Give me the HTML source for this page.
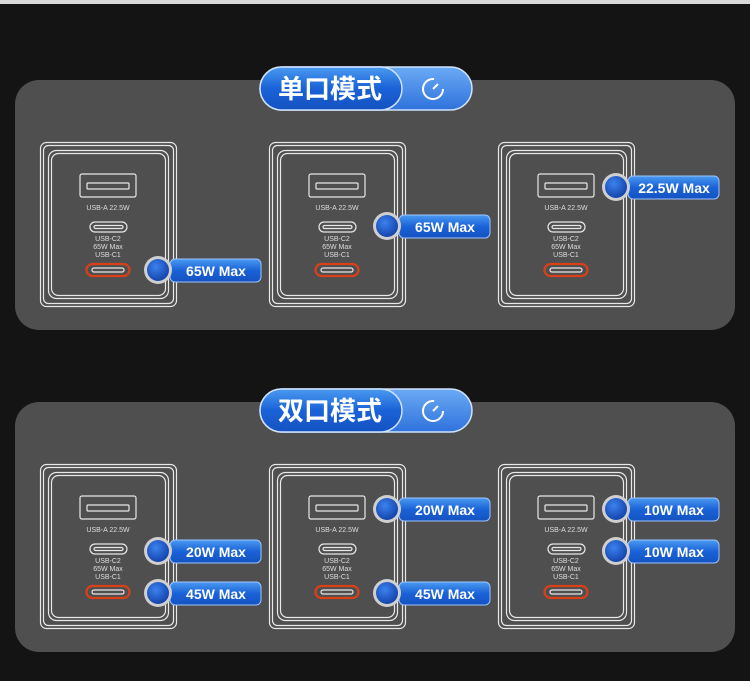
<!DOCTYPE html>
<html><head><meta charset="utf-8"><style>
html,body{margin:0;padding:0;background:#121212;}
svg{display:block}
text{font-family:"Liberation Sans","Noto Sans CJK SC",sans-serif}
</style></head><body>
<svg width="750" height="681" viewBox="0 0 750 681" xmlns="http://www.w3.org/2000/svg">
<defs>
<linearGradient id="bl" x1="0" y1="0" x2="0" y2="1"><stop offset="0" stop-color="#4a9af0"/><stop offset="0.5" stop-color="#1a62d8"/><stop offset="1" stop-color="#1552c0"/></linearGradient>
<linearGradient id="bl2" x1="0" y1="0" x2="0" y2="1"><stop offset="0" stop-color="#6aaaf5"/><stop offset="1" stop-color="#2f72dc"/></linearGradient>
<radialGradient id="dot" cx="0.4" cy="0.35" r="0.7"><stop offset="0" stop-color="#3b82ee"/><stop offset="1" stop-color="#1240a8"/></radialGradient>
<g id="ch" fill="none" stroke="#e8e8e8" stroke-width="1.2">
<rect x="0.5" y="0.5" width="136" height="164" rx="6"/>
<rect x="3.5" y="3.5" width="130" height="158" rx="5"/>
<rect x="8.5" y="8.5" width="120" height="148" rx="8"/>
<rect x="11.5" y="11.5" width="114" height="142" rx="7"/>
<rect x="40" y="32" width="56" height="23" rx="2"/>
<rect x="47" y="41" width="42" height="6" rx="1"/>
<rect x="50" y="80" width="37" height="10" rx="5"/>
<rect x="54" y="83.5" width="29" height="3" rx="1.5"/>
<rect x="46.5" y="122" width="43" height="12" rx="6" stroke="#d8401a" stroke-width="2.2"/>
<rect x="52" y="126" width="32" height="4" rx="2"/>
<g fill="#ddd" stroke="none" font-size="7" text-anchor="middle">
<text x="68" y="68">USB-A 22.5W</text>
<text x="68" y="99">USB-C2</text>
<text x="68" y="107">65W Max</text>
<text x="68" y="115">USB-C1</text>
</g>
</g>
</defs>
<rect x="0" y="0" width="750" height="4" fill="#d8d8d8"/>
<rect x="0" y="4" width="750" height="677" fill="#141414"/>
<!-- panels -->
<rect x="15" y="80" width="720" height="250" rx="24" fill="#4f4f4f"/>
<rect x="15" y="402" width="720" height="250" rx="24" fill="#4f4f4f"/>

<!-- title 1 -->
<g transform="translate(0,0)">
<rect x="260" y="67" width="212" height="43" rx="21.5" fill="url(#bl2)" stroke="#cfe2ff" stroke-width="1.5"/>
<rect x="260" y="67" width="142" height="43" rx="21.5" fill="url(#bl)" stroke="#cfe2ff" stroke-width="1.5"/>
<text x="330" y="98" font-size="26" font-weight="bold" fill="#fff" text-anchor="middle">单口模式</text>
<circle cx="433" cy="89" r="10" fill="none" stroke="#fff" stroke-width="2" stroke-dasharray="48 15"/>
<line x1="433" y1="89" x2="438" y2="84" stroke="#fff" stroke-width="2"/>
</g>
<g transform="translate(0,322)">
<rect x="260" y="67" width="212" height="43" rx="21.5" fill="url(#bl2)" stroke="#cfe2ff" stroke-width="1.5"/>
<rect x="260" y="67" width="142" height="43" rx="21.5" fill="url(#bl)" stroke="#cfe2ff" stroke-width="1.5"/>
<text x="330" y="98" font-size="26" font-weight="bold" fill="#fff" text-anchor="middle">双口模式</text>
<circle cx="433" cy="89" r="10" fill="none" stroke="#fff" stroke-width="2" stroke-dasharray="48 15"/>
<line x1="433" y1="89" x2="438" y2="84" stroke="#fff" stroke-width="2"/>
</g>

<!-- chargers -->
<use href="#ch" x="40" y="142"/>
<use href="#ch" x="269" y="142"/>
<use href="#ch" x="498" y="142"/>
<use href="#ch" x="40" y="464"/>
<use href="#ch" x="269" y="464"/>
<use href="#ch" x="498" y="464"/>

<!-- badges -->
<g id="badges" font-size="14" font-weight="bold" fill="#fff">
<!-- helper pattern: pill then circle -->
<rect x="170" y="259" width="91" height="23" rx="5" fill="url(#bl)" stroke="#9cc4ff"/><text x="216" y="276" text-anchor="middle" fill="#fff">65W Max</text><circle cx="158" cy="270" r="14" fill="#cfcfcf"/><circle cx="158" cy="270" r="11" fill="url(#dot)"/>
<rect x="399" y="215" width="91" height="23" rx="5" fill="url(#bl)" stroke="#9cc4ff"/><text x="445" y="232" text-anchor="middle" fill="#fff">65W Max</text><circle cx="387" cy="226" r="14" fill="#cfcfcf"/><circle cx="387" cy="226" r="11" fill="url(#dot)"/>
<rect x="628" y="176" width="91" height="23" rx="5" fill="url(#bl)" stroke="#9cc4ff"/><text x="674" y="193" text-anchor="middle" fill="#fff">22.5W Max</text><circle cx="616" cy="187" r="14" fill="#cfcfcf"/><circle cx="616" cy="187" r="11" fill="url(#dot)"/>

<rect x="170" y="540" width="91" height="23" rx="5" fill="url(#bl)" stroke="#9cc4ff"/><text x="216" y="557" text-anchor="middle" fill="#fff">20W Max</text><circle cx="158" cy="551" r="14" fill="#cfcfcf"/><circle cx="158" cy="551" r="11" fill="url(#dot)"/>
<rect x="170" y="582" width="91" height="23" rx="5" fill="url(#bl)" stroke="#9cc4ff"/><text x="216" y="599" text-anchor="middle" fill="#fff">45W Max</text><circle cx="158" cy="593" r="14" fill="#cfcfcf"/><circle cx="158" cy="593" r="11" fill="url(#dot)"/>

<rect x="399" y="498" width="91" height="23" rx="5" fill="url(#bl)" stroke="#9cc4ff"/><text x="445" y="515" text-anchor="middle" fill="#fff">20W Max</text><circle cx="387" cy="509" r="14" fill="#cfcfcf"/><circle cx="387" cy="509" r="11" fill="url(#dot)"/>
<rect x="399" y="582" width="91" height="23" rx="5" fill="url(#bl)" stroke="#9cc4ff"/><text x="445" y="599" text-anchor="middle" fill="#fff">45W Max</text><circle cx="387" cy="593" r="14" fill="#cfcfcf"/><circle cx="387" cy="593" r="11" fill="url(#dot)"/>

<rect x="628" y="498" width="91" height="23" rx="5" fill="url(#bl)" stroke="#9cc4ff"/><text x="674" y="515" text-anchor="middle" fill="#fff">10W Max</text><circle cx="616" cy="509" r="14" fill="#cfcfcf"/><circle cx="616" cy="509" r="11" fill="url(#dot)"/>
<rect x="628" y="540" width="91" height="23" rx="5" fill="url(#bl)" stroke="#9cc4ff"/><text x="674" y="557" text-anchor="middle" fill="#fff">10W Max</text><circle cx="616" cy="551" r="14" fill="#cfcfcf"/><circle cx="616" cy="551" r="11" fill="url(#dot)"/>
</g>
</svg>
</body></html>
